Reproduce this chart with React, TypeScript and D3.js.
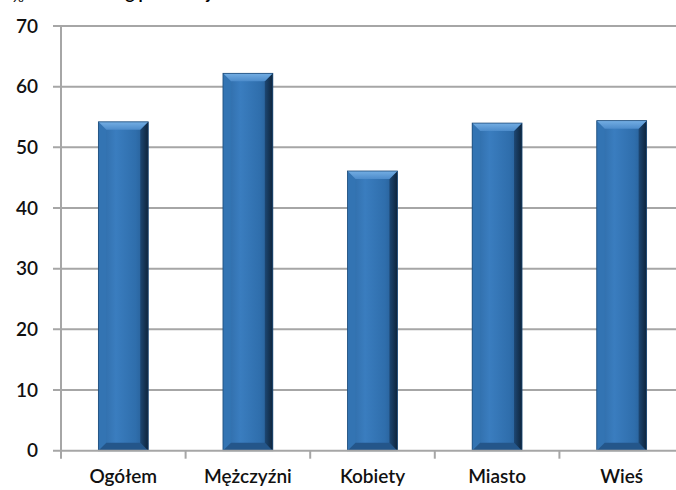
import React, { useEffect, useRef } from 'react'
import * as d3 from 'd3'

const categories = ['Ogółem', 'Mężczyźni', 'Kobiety', 'Miasto', 'Wieś']
const values = [54.2, 62.2, 46.1, 54.0, 54.4]
const yTicks = [0, 10, 20, 30, 40, 50, 60, 70]
const titleText = 'według płci i miejsca zamieszkania'
const unitText = '%'

const W = 676
const H = 490

const App = () => {
  const ref = useRef<SVGSVGElement>(null)

  useEffect(() => {
    const svg = d3.select(ref.current)
    svg.selectAll('*').remove()

    const left = 61
    const right = 684
    const top = 26
    const bottom = 450.7

    const x = d3.scaleBand<string>()
      .domain(categories)
      .range([left, right])
      .paddingInner(0.6)
      .paddingOuter(0.3)

    const y = d3.scaleLinear()
      .domain([0, 70])
      .range([bottom, top])

    const defs = svg.append('defs')

    // body: horizontal shading, dark at the right edge
    const body = defs.append('linearGradient').attr('id', 'barBody')
      .attr('x1', 0).attr('x2', 1).attr('y1', 0).attr('y2', 0)
    body.append('stop').attr('offset', '0%').attr('stop-color', '#2d68a2')
    body.append('stop').attr('offset', '35%').attr('stop-color', '#3a7dbf')
    body.append('stop').attr('offset', '75%').attr('stop-color', '#2f6eac')
    body.append('stop').attr('offset', '100%').attr('stop-color', '#24588c')

    const topBevel = defs.append('linearGradient').attr('id', 'barTop')
      .attr('x1', 0).attr('x2', 0).attr('y1', 0).attr('y2', 1)
    topBevel.append('stop').attr('offset', '0%').attr('stop-color', '#74aee3')
    topBevel.append('stop').attr('offset', '100%').attr('stop-color', '#4d8ccb')

    const rightBevel = defs.append('linearGradient').attr('id', 'barRight')
      .attr('x1', 0).attr('x2', 1).attr('y1', 0).attr('y2', 0)
    rightBevel.append('stop').attr('offset', '0%').attr('stop-color', '#1d4773')
    rightBevel.append('stop').attr('offset', '100%').attr('stop-color', '#0e243b')

    const g = svg.append('g')

    // title sits above the picture; only its lower edge shows, as in the source
    g.append('text')
      .attr('x', 12)
      .attr('y', 2)
      .attr('font-family', 'Lato, sans-serif')
      .attr('font-size', 15)
      .attr('fill', '#000')
      .text(unitText)
    g.append('text')
      .attr('x', 78)
      .attr('y', -1)
      .attr('font-family', 'Lato, sans-serif')
      .attr('font-weight', 'bold')
      .attr('font-size', 17)
      .attr('fill', '#000')
      .text(titleText)

    // gridlines
    g.selectAll('line.grid')
      .data(yTicks.filter(d => d > 0))
      .enter().append('line')
      .attr('class', 'grid')
      .attr('x1', left - 8)
      .attr('x2', W)
      .attr('y1', d => y(d))
      .attr('y2', d => y(d))
      .attr('stroke', '#a6a6a6')
      .attr('stroke-width', 2)

    // y axis
    g.append('line')
      .attr('x1', left).attr('x2', left)
      .attr('y1', top).attr('y2', bottom + 1)
      .attr('stroke', '#a6a6a6')
      .attr('stroke-width', 2)

    g.selectAll('text.ylab')
      .data(yTicks)
      .enter().append('text')
      .attr('class', 'ylab')
      .attr('x', 38)
      .attr('y', d => y(d) + 6.5)
      .attr('text-anchor', 'end')
      .attr('font-family', 'Lato, sans-serif')
      .attr('font-size', 19)
      .attr('font-weight', 600)
      .attr('fill', '#111')
      .text(d => d)

    // bars
    const b = 8
    const bars = g.selectAll('g.bar')
      .data(categories.map((c, i) => ({ c, v: values[i] })))
      .enter().append('g')
      .attr('class', 'bar')

    bars.each(function (d) {
      const el = d3.select(this)
      const x0 = x(d.c) as number
      const x1 = x0 + x.bandwidth()
      const y0 = y(d.v)
      const y1 = y(0)
      el.append('rect')
        .attr('x', x0).attr('y', y0)
        .attr('width', x1 - x0).attr('height', y1 - y0)
        .attr('fill', 'url(#barBody)')
      // left bevel
      el.append('polygon')
        .attr('points', `${x0},${y0} ${x0 + b},${y0 + b} ${x0 + b},${y1 - b} ${x0},${y1}`)
        .attr('fill', '#3374b3')
      // bottom bevel
      el.append('polygon')
        .attr('points', `${x0},${y1} ${x0 + b},${y1 - b} ${x1 - b},${y1 - b} ${x1},${y1}`)
        .attr('fill', '#24568a')
      // right bevel
      el.append('polygon')
        .attr('points', `${x1},${y0} ${x1 - b},${y0 + b} ${x1 - b},${y1 - b} ${x1},${y1}`)
        .attr('fill', 'url(#barRight)')
      // top bevel
      el.append('polygon')
        .attr('points', `${x0},${y0} ${x1},${y0} ${x1 - b},${y0 + b} ${x0 + b},${y0 + b}`)
        .attr('fill', 'url(#barTop)')
      el.append('rect')
        .attr('x', x0).attr('y', y0)
        .attr('width', x1 - x0).attr('height', y1 - y0)
        .attr('fill', 'none')
        .attr('stroke', '#1c4a78')
        .attr('stroke-width', 0.8)
    })

    // x axis
    g.append('line')
      .attr('x1', left - 8).attr('x2', W)
      .attr('y1', bottom).attr('y2', bottom)
      .attr('stroke', '#a6a6a6')
      .attr('stroke-width', 2)

    const step = x.step()
    g.selectAll('line.xtick')
      .data(d3.range(categories.length + 1))
      .enter().append('line')
      .attr('class', 'xtick')
      .attr('x1', i => left + i * step)
      .attr('x2', i => left + i * step)
      .attr('y1', bottom)
      .attr('y2', bottom + 8)
      .attr('stroke', '#a6a6a6')
      .attr('stroke-width', 2)

    g.selectAll('text.xlab')
      .data(categories)
      .enter().append('text')
      .attr('class', 'xlab')
      .attr('x', d => (x(d) as number) + x.bandwidth() / 2)
      .attr('y', 483)
      .attr('text-anchor', 'middle')
      .attr('font-family', 'Lato, sans-serif')
      .attr('font-size', 19)
      .attr('font-weight', 600)
      .attr('fill', '#111')
      .text(d => d)
  }, [])

  return (
    <svg
      ref={ref}
      width={W}
      height={H}
      style={{ position: 'absolute', left: 0, top: 0, background: '#fff' }}
    />
  )
}

export default App
